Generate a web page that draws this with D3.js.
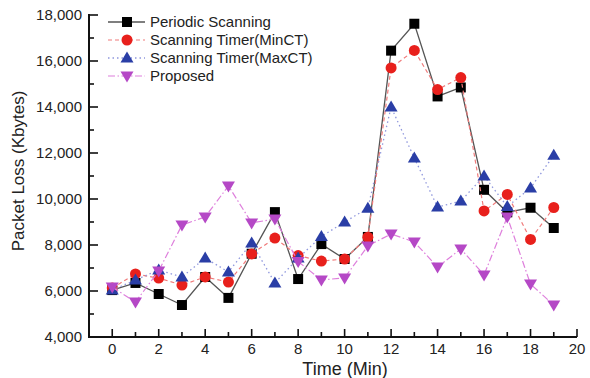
<!DOCTYPE html>
<html>
<head>
<meta charset="utf-8">
<script src="https://cdn.jsdelivr.net/npm/d3@7/dist/d3.min.js"></script>
<style>
  html, body { margin: 0; padding: 0; background: #fff; }
  svg { display: block; font-family: "Liberation Sans", Arial, sans-serif; }
</style>
</head>
<body>
<svg id="chart" width="590" height="378"></svg>
<script>
// Packet loss over time for four scanning strategies
const times = d3.range(0, 20);
const periodic = [6040, 6350, 5870, 5390, 6610, 5700, 7620, 9430, 6520, 8040,
                  7390, 8350, 16450, 17620, 14460, 14850, 10400, 9420, 9620, 8740];
const minCT    = [6130, 6740, 6560, 6260, 6610, 6390, 7610, 8300, 7540, 7300,
                  7390, 8340, 15700, 16460, 14760, 15280, 9480, 10200, 8240, 9630];
const maxCT    = [6040, 6480, 6910, 6610, 7430, 6830, 8090, 6350, 7430, 8370,
                  9000, 9600, 14000, 11780, 9650, 9910, 11000, 9670, 10480, 11900];
const proposed = [6170, 5520, 6870, 8870, 9220, 10570, 8960, 9130, 7280, 6480,
                  6570, 7960, 8480, 8130, 7040, 7830, 6700, 9220, 6300, 5390];
const seriesNames = ["Periodic Scanning", "Scanning Timer(MinCT)", "Scanning Timer(MaxCT)", "Proposed"];
const xTickLabels = [0, 2, 4, 6, 8, 10, 12, 14, 16, 18, 20];
const yTickLabels = [4000, 6000, 8000, 10000, 12000, 14000, 16000, 18000];

const seriesValues = [periodic, minCT, maxCT, proposed];
const styles = [
  { line: "#555555", dash: null,          width: 1.3, fill: "#000000", symbol: "square" },
  { line: "#f07b7b", dash: "4,3",         width: 1.2, fill: "#e8201c", symbol: "circle" },
  { line: "#8f97dd", dash: "1.5,3",       width: 1.3, fill: "#2a3ea6", symbol: "up" },
  { line: "#de7fdc", dash: "7,2.5,1.5,2.5", width: 1.2, fill: "#b548c6", symbol: "down" }
];

const svg = d3.select("#chart");
const x = d3.scaleLinear().domain([-1, 20]).range([89, 577]);
const y = d3.scaleLinear().domain([4000, 18000]).range([337, 15]);

// Marker shapes
function markerPath(kind) {
  if (kind === "square") return "M-5,-5H5V5H-5Z";
  if (kind === "circle") return d3.symbol(d3.symbolCircle, 95)();
  if (kind === "up") return "M0,-6.5L6.5,4.5L-6.5,4.5Z";
  return "M0,6.5L6.5,-4.5L-6.5,-4.5Z";
}

// Axes
const axisG = svg.append("g");
axisG.append("line").attr("x1", x(-1)).attr("x2", x(20)).attr("y1", y(4000)).attr("y2", y(4000))
  .attr("stroke", "#111").attr("stroke-width", 2);
axisG.append("line").attr("x1", x(-1)).attr("x2", x(-1)).attr("y1", y(4000) + 1).attr("y2", y(18000) - 1)
  .attr("stroke", "#111").attr("stroke-width", 2);

// x ticks (inward)
d3.range(0, 21).forEach(t => {
  const major = t % 2 === 0;
  axisG.append("line").attr("x1", x(t)).attr("x2", x(t))
    .attr("y1", y(4000)).attr("y2", y(4000) - (major ? 8 : 5))
    .attr("stroke", "#111").attr("stroke-width", 1.6);
});
axisG.selectAll(".xlab").data(xTickLabels).enter().append("text")
  .attr("x", d => x(d)).attr("y", 354)
  .attr("text-anchor", "middle").attr("font-size", 15).attr("fill", "#222")
  .text(d => d);

// y ticks (inward)
d3.range(5000, 18001, 1000).forEach(t => {
  const major = t % 2000 === 0;
  axisG.append("line").attr("x1", x(-1)).attr("x2", x(-1) + (major ? 9 : 5))
    .attr("y1", y(t)).attr("y2", y(t))
    .attr("stroke", "#111").attr("stroke-width", 1.6);
});
axisG.selectAll(".ylab").data(yTickLabels).enter().append("text")
  .attr("x", 82).attr("y", d => y(d) + 5)
  .attr("text-anchor", "end").attr("font-size", 15).attr("fill", "#222")
  .text(d => d3.format(",")(d));

// Axis titles
svg.append("text").attr("x", 345).attr("y", 375).attr("text-anchor", "middle")
  .attr("font-size", 18).attr("fill", "#222").text("Time (Min)");
svg.append("text").attr("transform", "translate(24,171) rotate(-90)").attr("text-anchor", "middle")
  .attr("font-size", 17).attr("fill", "#222").text("Packet Loss (Kbytes)");

// Series: line then markers, in order
const line = d3.line().x((d, i) => x(times[i])).y(d => y(d));
seriesValues.forEach((vals, s) => {
  const st = styles[s];
  const g = svg.append("g");
  g.append("path").attr("d", line(vals)).attr("fill", "none")
    .attr("stroke", st.line).attr("stroke-width", st.width)
    .attr("stroke-dasharray", st.dash);
  g.selectAll("path.m").data(vals).enter().append("path").attr("class", "m")
    .attr("d", markerPath(st.symbol))
    .attr("transform", (d, i) => `translate(${x(times[i])},${y(d)})`)
    .attr("fill", st.fill);
});

// Legend
const legend = svg.append("g");
seriesNames.forEach((name, s) => {
  const st = styles[s];
  const ly = 22 + s * 18;
  legend.append("line").attr("x1", 108).attr("x2", 145).attr("y1", ly).attr("y2", ly)
    .attr("stroke", st.line).attr("stroke-width", st.width).attr("stroke-dasharray", st.dash);
  legend.append("path").attr("d", markerPath(st.symbol))
    .attr("transform", `translate(127,${ly})`).attr("fill", st.fill);
  legend.append("text").attr("x", 150).attr("y", ly + 5)
    .attr("font-size", 15).attr("fill", "#222").text(name);
});
</script>
</body>
</html>
